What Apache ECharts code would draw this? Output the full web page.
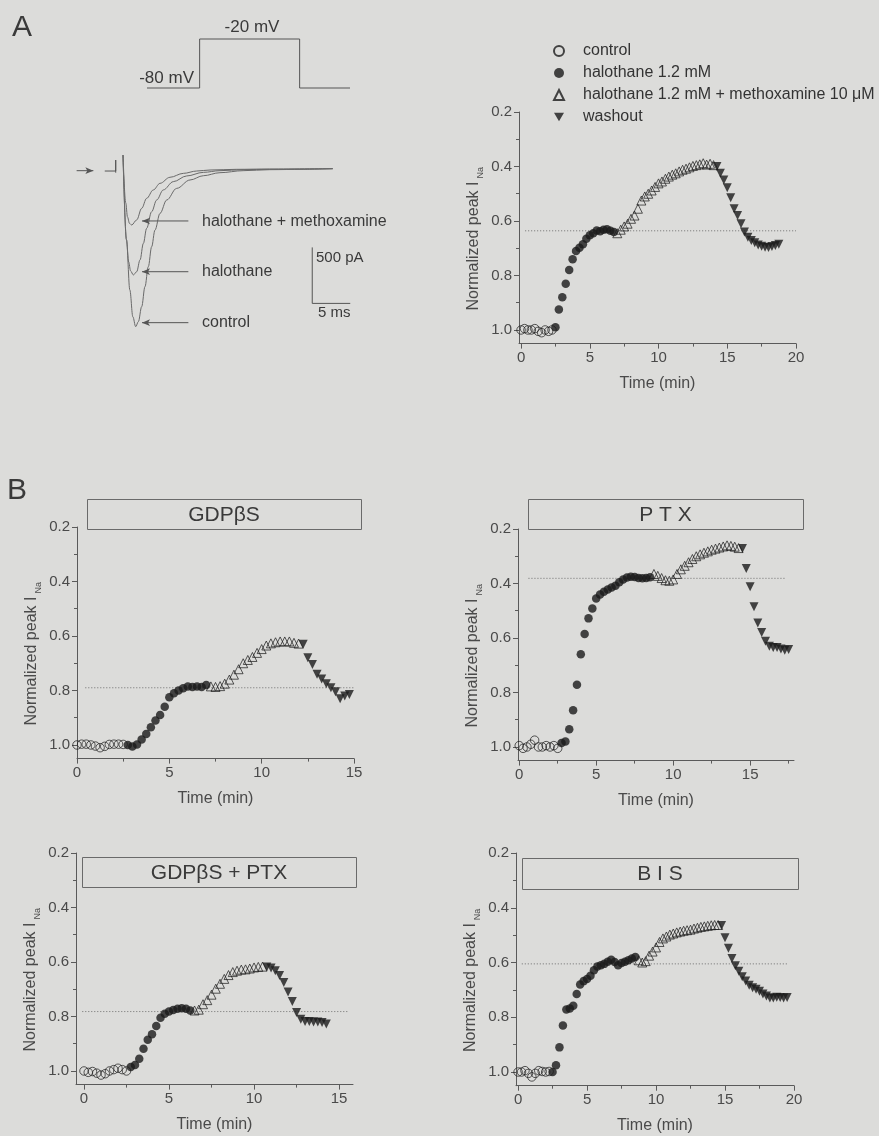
<!DOCTYPE html>
<html>
<head>
<meta charset="utf-8">
<title>INa halothane / methoxamine</title>
<script src="https://cdn.jsdelivr.net/npm/echarts@6.0.0/dist/echarts.min.js"></script>
<style>
html, body { margin: 0; padding: 0; background: #dcdcda; }
#main { width: 879px; height: 1136px; }
</style>
</head>
<body>
<div id="main"></div>
<script>
const BG = '#dcdcda';
const INK = '#4a4a4a';
const AXIS = '#5a5a5a';
const DARK = '#1a1a1a';
const FONT = '"Liberation Sans", Arial, Helvetica, sans-serif';
const SAMPLE = 0.25; // one sweep every 15 s

const NAMES = ['control', 'halothane 1.2 mM', 'halothane 1.2 mM + methoxamine 10 \u03bcM', 'washout'];

// A, voltage protocol (arbitrary time units, mV)
const protoT = [0, 7, 7, 20.3, 20.3, 27];
const protoV = [-80, -80, -20, -20, -80, -80];

// A, current traces (ms, pA)
const ctrlT = [0, 0.45, 0.9, 1.3, 1.67, 2.02, 2.46, 2.89, 3.33, 3.77, 4.21, 4.87, 5.75, 7.06, 8.82, 10.57, 12.76, 15.8, 19.3, 23.7, 27.6];
const ctrlI = [125, -630, -1080, -1320, -1408, -1363, -1229, -1051, -872, -694, -545, -396, -277, -173, -98, -60, -33, -15, -6, -3, 3];
const haloT = [0, 0.45, 0.75, 1.0, 1.36, 1.8, 2.24, 2.68, 3.11, 3.77, 4.43, 5.3, 6.62, 8.38, 10.57, 12.76, 15.8, 19.3, 27.6];
const haloI = [125, -630, -830, -910, -946, -917, -812, -664, -530, -381, -277, -187, -113, -62, -30, -15, -6, -3, 3];
const methT = [0, 0.35, 0.6, 0.85, 1.14, 1.8, 2.46, 3.11, 3.99, 4.87, 6.18, 7.94, 9.7, 11.45, 14.9, 19.3, 27.6];
const methI = [125, -300, -430, -485, -500, -455, -351, -262, -187, -128, -74, -39, -18, -9, -3, 0, 3];
const preT = [-2.4, -0.96, -0.96, -0.96];
const preI = [-18, -18, 80, -33];
const scaleBar = [24.9, -700, 5, 500]; // t, I, 5 ms, 500 pA
const pointerI = [-464, -917, -1372];
const pointerSpan = [8.6, 2.5];

// A, right: normalized peak INa
const aStart = [0, 2.5, 7.0, 14.25];
const aCtrl = [1.0, 0.995, 1.0, 1.0, 0.995, 1.005, 1.01, 1.0, 1.005, 1.0];
const aHalo = [0.99, 0.925, 0.88, 0.83, 0.78, 0.74, 0.71, 0.698, 0.685, 0.665, 0.652, 0.645, 0.635, 0.638, 0.632, 0.63, 0.636, 0.64];
const aMeth = [0.645, 0.632, 0.620, 0.610, 0.592, 0.580, 0.555, 0.525, 0.510, 0.500, 0.488, 0.475, 0.462, 0.455, 0.445, 0.437, 0.430, 0.425, 0.418, 0.412, 0.408, 0.403, 0.398, 0.395, 0.392, 0.388, 0.393, 0.390, 0.395];
const aWash = [0.400, 0.425, 0.450, 0.478, 0.515, 0.555, 0.580, 0.610, 0.640, 0.660, 0.672, 0.680, 0.688, 0.693, 0.696, 0.697, 0.694, 0.690, 0.685];
const aRef = 0.636, aRefSpan = [0.3, 20];

// B, GDPbetaS
const gStart = [0, 2.75, 7.25, 12.25];
const gCtrl = [1.0, 0.997, 0.997, 1.0, 1.004, 1.01, 1.005, 0.998, 0.997, 0.997, 0.998];
const gHalo = [1.0, 1.006, 0.998, 0.98, 0.96, 0.935, 0.91, 0.89, 0.86, 0.825, 0.81, 0.8, 0.792, 0.785, 0.787, 0.785, 0.787, 0.78];
const gMeth = [0.785, 0.787, 0.784, 0.775, 0.76, 0.742, 0.722, 0.70, 0.688, 0.677, 0.662, 0.648, 0.635, 0.627, 0.623, 0.620, 0.62, 0.62, 0.625, 0.628];
const gWash = [0.63, 0.68, 0.705, 0.74, 0.758, 0.775, 0.79, 0.805, 0.83, 0.82, 0.815];
const gRef = 0.79, gRefSpan = [0.45, 15.2];

// B, PTX
const pStart = [0, 2.75, 8.75, 14.5];
const pCtrl = [0.995, 1.005, 1.0, 0.99, 0.975, 1.0, 1.0, 0.995, 1.0, 0.995, 1.005];
const pHalo = [0.985, 0.98, 0.935, 0.865, 0.772, 0.66, 0.585, 0.528, 0.492, 0.455, 0.44, 0.43, 0.422, 0.415, 0.408, 0.395, 0.385, 0.378, 0.375, 0.376, 0.38, 0.381, 0.38, 0.377];
const pMeth = [0.365, 0.372, 0.38, 0.388, 0.39, 0.385, 0.365, 0.348, 0.335, 0.322, 0.31, 0.3, 0.293, 0.287, 0.282, 0.276, 0.272, 0.268, 0.264, 0.26, 0.262, 0.265, 0.27];
const pWash = [0.272, 0.345, 0.412, 0.485, 0.545, 0.58, 0.612, 0.63, 0.635, 0.635, 0.64, 0.645, 0.642];
const pRef = 0.381, pRefSpan = [0.6, 17.3];

// B, GDPbetaS + PTX
const gpStart = [0, 2.75, 6.5, 10.75];
const gpCtrl = [1.0, 1.005, 1.002, 1.008, 1.015, 1.01, 1.0, 0.995, 0.99, 0.995, 1.0];
const gpHalo = [0.985, 0.978, 0.955, 0.918, 0.885, 0.865, 0.835, 0.805, 0.79, 0.782, 0.776, 0.772, 0.77, 0.772, 0.778];
const gpMeth = [0.778, 0.775, 0.755, 0.74, 0.72, 0.698, 0.68, 0.662, 0.648, 0.637, 0.632, 0.628, 0.627, 0.624, 0.62, 0.618, 0.617];
const gpWash = [0.618, 0.622, 0.632, 0.65, 0.675, 0.71, 0.745, 0.785, 0.81, 0.818, 0.818, 0.82, 0.82, 0.822, 0.828];
const gpRef = 0.782, gpRefSpan = [-0.1, 15.5];

// B, BIS
const bStart = [0, 2.5, 8.75, 14.75];
const bCtrl = [1.0, 1.0, 0.995, 1.005, 1.018, 1.005, 0.995, 0.998, 1.0, 0.998];
const bHalo = [1.0, 0.975, 0.91, 0.83, 0.772, 0.768, 0.758, 0.715, 0.68, 0.668, 0.66, 0.648, 0.628, 0.615, 0.61, 0.605, 0.597, 0.59, 0.598, 0.61, 0.602, 0.597, 0.592, 0.585, 0.58];
const bMeth = [0.592, 0.6, 0.595, 0.575, 0.56, 0.545, 0.525, 0.512, 0.505, 0.498, 0.494, 0.49, 0.487, 0.484, 0.482, 0.48, 0.476, 0.473, 0.47, 0.468, 0.466, 0.464, 0.463, 0.463];
const bWash = [0.465, 0.51, 0.548, 0.585, 0.612, 0.632, 0.652, 0.668, 0.683, 0.692, 0.698, 0.705, 0.715, 0.722, 0.73, 0.73, 0.727, 0.728, 0.73, 0.728];
const bRef = 0.605, bRefSpan = [0.27, 19.5];

const yMajor = [0.2, 0.4, 0.6, 0.8, 1.0];
const yMinor = [0.3, 0.5, 0.7, 0.9];

const DOWN = 'path://M0,0L20,0L10,17Z';
const SYM = [
    { symbol: 'circle', symbolSize: 8.5, itemStyle: { color: 'rgba(0,0,0,0)', borderColor: DARK, borderWidth: 0.9 } },
    { symbol: 'circle', symbolSize: 8.5, itemStyle: { color: DARK } },
    { symbol: 'triangle', symbolSize: 9, itemStyle: { color: 'rgba(0,0,0,0)', borderColor: DARK, borderWidth: 0.9 } },
    { symbol: DOWN, symbolSize: 9, itemStyle: { color: DARK } }
];

let option = {
    backgroundColor: BG,
    animation: false,
    textStyle: { fontFamily: FONT },
    grid: [],
    xAxis: [],
    yAxis: [],
    series: [],
    legend: {
        left: 548,
        top: 38,
        orient: 'vertical',
        itemWidth: 10,
        itemHeight: 10,
        itemGap: 6,
        selectedMode: false,
        textStyle: { fontSize: 16, color: '#333', padding: [0, 0, 0, 14] },
        data: NAMES
    },
    graphic: []
};

function pairs(xs, ys) {
    return xs.map((x, i) => [x, ys[i]]);
}

function phase(t0, vals) {
    return vals.map((v, i) => [t0 + i * SAMPLE, v]);
}

function addGrid(box) {
    option.grid.push(Object.assign({ containLabel: false, outerBoundsMode: 'none' }, box));
    return option.grid.length - 1;
}

function hiddenAxes(gi, xr, yr) {
    option.xAxis.push({ gridIndex: gi, type: 'value', min: xr[0], max: xr[1], show: false });
    option.yAxis.push({ gridIndex: gi, type: 'value', min: yr[0], max: yr[1], show: false });
    return [option.xAxis.length - 1, option.yAxis.length - 1];
}

function traceLine(ax, data, color) {
    option.series.push({
        type: 'line', xAxisIndex: ax[0], yAxisIndex: ax[1], data: data,
        symbol: 'none', smooth: 0.35, smoothMonotone: 'x', clip: false, silent: true,
        lineStyle: { color: color || '#6a6a6a', width: 1 }
    });
}

function arrowLine(ax, from, to, rot) {
    option.series.push({
        type: 'line', xAxisIndex: ax[0], yAxisIndex: ax[1], clip: false, silent: true,
        showSymbol: true,
        data: [
            { value: from, symbol: 'none' },
            { value: to, symbol: 'arrow', symbolSize: [5, 8], symbolRotate: rot }
        ],
        itemStyle: { color: '#555' },
        lineStyle: { color: '#555', width: 1 }
    });
}

function addPanel(box, xr, xMajor, xMinor, starts, sets, ref, refSpan) {
    let gi = addGrid(box);
    let xi = option.xAxis.length;
    option.xAxis.push({
        gridIndex: gi, type: 'value', min: xr[0], max: xr[1], position: 'bottom',
        axisLine: { show: true, onZero: false, lineStyle: { color: AXIS, width: 1 } },
        axisTick: { show: true, length: 5, customValues: xMajor, lineStyle: { color: AXIS } },
        axisLabel: { customValues: xMajor, margin: 7, fontSize: 15, color: INK },
        splitLine: { show: false },
        name: 'Time (min)', nameLocation: 'middle', nameGap: 32, nameMoveOverlap: false,
        nameTextStyle: { fontSize: 16, color: INK }
    }, {
        gridIndex: gi, type: 'value', min: xr[0], max: xr[1], position: 'bottom',
        axisLine: { show: false, onZero: false },
        axisTick: { show: true, length: 3, customValues: xMinor, lineStyle: { color: AXIS } },
        axisLabel: { show: false },
        splitLine: { show: false }
    });
    let yi = option.yAxis.length;
    option.yAxis.push({
        gridIndex: gi, type: 'value', min: 0.2, max: 1.05, inverse: true, position: 'left',
        axisLine: { show: true, onZero: false, lineStyle: { color: AXIS, width: 1 } },
        axisTick: { show: true, length: 5, customValues: yMajor, lineStyle: { color: AXIS } },
        axisLabel: { customValues: yMajor, margin: 7, fontSize: 15, color: INK, formatter: v => v.toFixed(1) },
        splitLine: { show: false },
        name: '{m|Normalized peak I}{s|Na}', nameLocation: 'middle', nameGap: 34, nameRotate: 90,
        nameMoveOverlap: false,
        nameTextStyle: {
            color: INK, padding: [0, 22, 0, 0],
            rich: {
                m: { fontSize: 16, lineHeight: 22, color: INK },
                s: { fontSize: 9, lineHeight: 22, verticalAlign: 'bottom', color: INK, padding: [0, 0, 0, 3] }
            }
        }
    }, {
        gridIndex: gi, type: 'value', min: 0.2, max: 1.05, inverse: true, position: 'left',
        axisLine: { show: false, onZero: false },
        axisTick: { show: true, length: 3, customValues: yMinor, lineStyle: { color: AXIS } },
        axisLabel: { show: false },
        splitLine: { show: false }
    });

    // dotted reference level
    option.series.push({
        type: 'line', xAxisIndex: xi, yAxisIndex: yi, symbol: 'none', clip: false, silent: true, z: 1,
        data: [[refSpan[0], ref], [refSpan[1], ref]],
        lineStyle: { type: [1, 2], color: '#6e6e6e', width: 1 }
    });
    sets.forEach((vals, k) => {
        option.series.push(Object.assign({
            type: 'scatter', name: NAMES[k], xAxisIndex: xi, yAxisIndex: yi, z: 3, silent: true,
            data: phase(starts[k], vals)
        }, SYM[k]));
    });
}

function txt(x, y, s, size, align, valign) {
    option.graphic.push({
        type: 'text', x: x, y: y, silent: true,
        style: { text: s, fontSize: size, fontFamily: FONT, fill: '#3a3a3a', align: align || 'left', verticalAlign: valign || 'middle' }
    });
}

function box(x, y, w, h, label) {
    option.graphic.push({
        type: 'rect', silent: true,
        shape: { x: x + 0.5, y: y + 0.5, width: w, height: h },
        style: { fill: 'none', stroke: '#6a6a6a', lineWidth: 1 }
    });
    txt(x + w / 2, y + h / 2 + 1, label, 21, 'center', 'middle');
}

// ---- A: stimulus protocol
let pg = addGrid({ left: 147, top: 39, width: 203, height: 49 });
let pax = hiddenAxes(pg, [0, 27], [-80, -20]);
option.series.push({
    type: 'line', xAxisIndex: pax[0], yAxisIndex: pax[1], data: pairs(protoT, protoV),
    symbol: 'none', clip: false, silent: true, lineStyle: { color: '#555', width: 1 }
});

// ---- A: current traces
let tg = addGrid({ left: 69.8, top: 146.6, width: 281.2, height: 190.4 });
let tax = hiddenAxes(tg, [-7, 30], [-1500, 200]);
traceLine(tax, pairs(ctrlT, ctrlI));
traceLine(tax, pairs(haloT, haloI));
traceLine(tax, pairs(methT, methI));
option.series.push({
    type: 'line', xAxisIndex: tax[0], yAxisIndex: tax[1], data: pairs(preT, preI),
    symbol: 'none', clip: false, silent: true, lineStyle: { color: '#555', width: 1 }
});
option.series.push({
    type: 'line', xAxisIndex: tax[0], yAxisIndex: tax[1], symbol: 'none', clip: false, silent: true,
    data: [[scaleBar[0], scaleBar[1]], [scaleBar[0], scaleBar[1] - scaleBar[3]], [scaleBar[0] + scaleBar[2], scaleBar[1] - scaleBar[3]]],
    lineStyle: { color: '#555', width: 1 }
});
arrowLine(tax, [-6.1, -15], [-3.9, -15], -90);
pointerI.forEach(v => arrowLine(tax, [pointerSpan[0], v], [pointerSpan[1], v], 90));

// ---- A: right plot
addPanel({ left: 519, top: 112, width: 277, height: 231.6 }, [-0.15, 20], [0, 5, 10, 15, 20], [2.5, 7.5, 12.5, 17.5],
    aStart, [aCtrl, aHalo, aMeth, aWash], aRef, aRefSpan);

// ---- B panels
addPanel({ left: 77, top: 527, width: 277, height: 231.6 }, [0, 15], [0, 5, 10, 15], [2.5, 7.5, 12.5],
    gStart, [gCtrl, gHalo, gMeth, gWash], gRef, gRefSpan);
addPanel({ left: 518, top: 529, width: 276, height: 231.6 }, [-0.08, 17.85], [0, 5, 10, 15], [2.5, 7.5, 12.5, 17.5],
    pStart, [pCtrl, pHalo, pMeth, pWash], pRef, pRefSpan);
addPanel({ left: 76, top: 853, width: 277, height: 231.6 }, [-0.47, 15.82], [0, 5, 10, 15], [2.5, 7.5, 12.5],
    gpStart, [gpCtrl, gpHalo, gpMeth, gpWash], gpRef, gpRefSpan);
addPanel({ left: 516, top: 853, width: 278, height: 232.7 }, [-0.15, 20], [0, 5, 10, 15, 20], [2.5, 7.5, 12.5, 17.5],
    bStart, [bCtrl, bHalo, bMeth, bWash], bRef, bRefSpan);

// ---- annotations
txt(12, 28, 'A', 30, 'left', 'middle');
txt(7, 491, 'B', 30, 'left', 'middle');
txt(252, 27, '-20 mV', 17, 'center', 'middle');
txt(194, 78, '-80 mV', 17, 'right', 'middle');
txt(202, 222, 'halothane + methoxamine', 16);
txt(202, 272, 'halothane', 16);
txt(202, 323, 'control', 16);
txt(316, 258, '500 pA', 15);
txt(318, 313, '5 ms', 15);
box(87, 499, 274, 30, 'GDP\u03b2S');
box(528, 499, 275, 30, 'P T X');
box(82, 857, 274, 30, 'GDP\u03b2S + PTX');
box(522, 858, 276, 31, 'B I S');

let myChart = echarts.init(document.getElementById('main'));
myChart.setOption(option);
</script>
</body>
</html>
